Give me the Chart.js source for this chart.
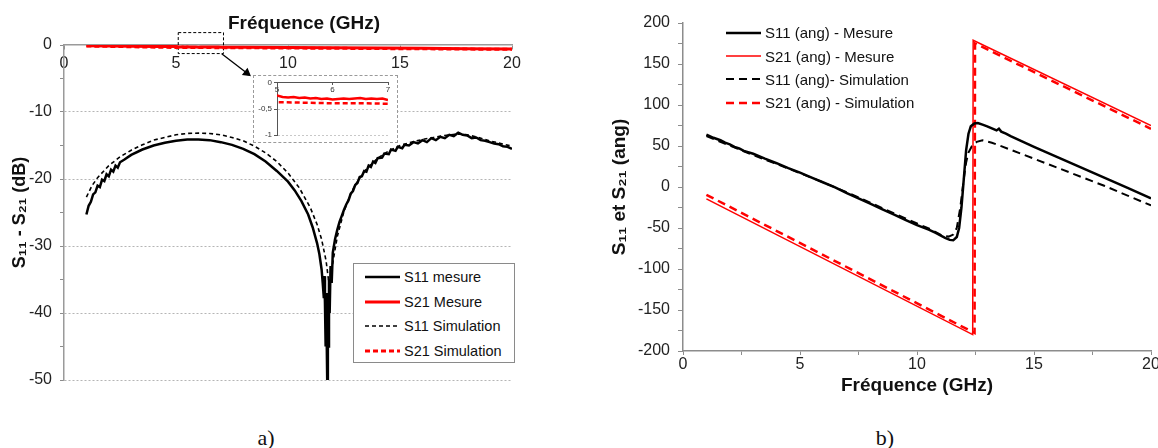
<!DOCTYPE html>
<html>
<head>
<meta charset="utf-8">
<script src="https://cdn.jsdelivr.net/npm/chart.js@4.4.1/dist/chart.umd.min.js"></script>
<style>
  body { margin: 0; width: 1158px; height: 448px; overflow: hidden; background: #fff; position: relative;
         font-family: "Liberation Sans", Arial, sans-serif; color: #111; }
  canvas { position: absolute; }
  .txt { position: absolute; white-space: nowrap; transform: translate(-50%, -50%); }
  .legend { position: absolute; box-sizing: border-box; }
  .lg-row { display: flex; align-items: center; white-space: nowrap; }
  .lg-row svg { margin-right: 4px; }
  #insetBox { position: absolute; left: 253px; top: 75px; width: 145px; height: 68px;
              box-sizing: border-box; border: 1px dashed #9a9a9a; background: #fff; }
  #insetBox canvas { left: 0; top: 0; }
</style>
</head>
<body>
<canvas id="chartA" width="580" height="400" style="left:0;top:0"></canvas>
<canvas id="chartB" width="600" height="410" style="left:580px;top:0"></canvas>
<div id="insetBox"><canvas id="chartInset" width="143" height="66"></canvas></div>

<div class="txt" style="left:304px;top:23px;font-weight:bold;font-size:19px">Fréquence (GHz)</div>
<div id="legendA" class="legend" style="left:353px;top:263px;width:162px;height:100px;border:1px solid #8a8a8a;background:#fff;padding:1px 0 0 11px"></div>
<div id="legendB" class="legend" style="left:726px;top:21px"></div>
<div class="txt" style="left:266px;top:438px;font-family:'Liberation Serif',serif;font-size:22px">a)</div>
<div class="txt" style="left:885px;top:438px;font-family:'Liberation Serif',serif;font-size:22px">b)</div>

<script>
const FONT = '"Liberation Sans", Arial, sans-serif';
const RED = '#ff0000';

// ---------- a) amplitude (dB) ----------
const freqS11MesA = [
  1.0, 1.1, 1.2, 1.3, 1.4, 1.5, 1.6, 1.7, 1.8, 1.9,
  2.0, 2.1, 2.2, 2.3, 2.4, 2.5, 2.7, 3.0, 3.5, 4.0,
  4.5, 5.0, 5.5, 6.0, 6.5, 7.0, 7.5, 8.0, 8.5, 9.0,
  9.5, 10.0, 10.3, 10.6, 10.9, 11.1, 11.3, 11.4, 11.5, 11.55,
  11.6, 11.62, 11.65, 11.68, 11.7, 11.72, 11.75, 11.78, 11.8, 11.83,
  11.86, 11.9, 11.95, 12.0, 12.1, 12.2, 12.3, 12.4, 12.5, 12.6,
  12.7, 12.8, 12.9, 13.0, 13.1, 13.2, 13.3, 13.4, 13.5, 13.6,
  13.7, 13.8, 13.9, 14.0, 14.2, 14.3, 14.5, 14.6, 14.8, 14.9,
  15.1, 15.2, 15.4, 15.6, 15.8, 16.0, 16.2, 16.4, 16.6, 16.8,
  17.0, 17.2, 17.4, 17.6, 17.8, 18.0, 18.2, 18.4, 18.6, 18.8,
  19.0, 19.2, 19.4, 19.6, 19.8, 20.0
];
const dbS11MesA = [
  -25.3, -24.0, -23.4, -22.3, -22.0, -21.0, -21.2, -20.1, -20.3, -19.3,
  -19.6, -18.6, -18.9, -18.0, -18.3, -17.5, -17.1, -16.4, -15.6, -15.0,
  -14.6, -14.3, -14.1, -14.1, -14.2, -14.5, -14.9, -15.5, -16.3, -17.4,
  -18.8, -20.4, -21.7, -23.3, -25.3, -27.2, -29.6, -31.2, -33.5, -35.5,
  -37.8, -34.5, -38.5, -45.0, -37.0, -42.0, -50.0, -38.0, -45.0, -35.0,
  -40.0, -33.0, -35.5, -31.0, -29.0, -27.6, -26.4, -25.5, -24.6, -23.8,
  -23.2, -22.2, -21.8, -20.9, -20.6, -19.7, -19.6, -18.8, -18.9, -18.0,
  -18.2, -17.4, -17.6, -16.9, -16.8, -16.2, -16.3, -15.6, -15.8, -15.2,
  -15.4, -14.9, -15.0, -14.5, -14.7, -14.2, -14.5, -13.9, -14.2, -13.7,
  -13.9, -13.4, -13.6, -13.1, -13.4, -13.5, -13.9, -13.8, -14.2, -14.3,
  -14.5, -14.7, -14.8, -15.1, -15.2, -15.5
];

const freqS11SimA = [
  1.0, 1.25, 1.5, 2.0, 2.5, 3.0, 3.5, 4.0, 4.5, 5.0,
  5.5, 6.0, 6.5, 7.0, 7.5, 8.0, 8.5, 9.0, 9.5, 10.0,
  10.5, 11.0, 11.3, 11.5, 11.7, 11.85, 12.0, 12.2, 12.5, 12.8,
  13.0, 13.5, 14.0, 14.5, 15.0, 15.5, 16.0, 16.5, 17.0, 17.5,
  17.8, 18.0, 18.5, 19.0, 19.5, 20.0
];
const dbS11SimA = [
  -22.7, -21.0, -19.8, -18.0, -16.7, -15.7, -14.9, -14.2, -13.8, -13.4,
  -13.2, -13.15, -13.2, -13.4, -13.8, -14.3, -15.1, -16.1, -17.4, -19.1,
  -21.3, -24.3, -26.8, -29.0, -32.2, -36.2, -32.5, -28.6, -24.8, -22.2,
  -20.9, -18.5, -16.9, -15.8, -15.0, -14.5, -14.1, -13.8, -13.5, -13.3,
  -13.3, -13.4, -13.8, -14.3, -14.7, -15.1
];

const freqS21MesA = [
  1.0, 2.0, 3.0, 4.0, 5.0, 5.1, 5.2, 5.3, 5.4, 5.5,
  5.6, 5.7, 5.8, 5.9, 6.0, 6.1, 6.2, 6.3, 6.4, 6.5,
  6.6, 6.7, 6.8, 6.9, 7.0, 8.0, 10.0, 12.0, 14.0, 16.0,
  18.0, 20.0
];
const dbS21MesA = [
  -0.10, -0.15, -0.19, -0.23, -0.24, -0.27, -0.28, -0.27, -0.29, -0.28,
  -0.30, -0.29, -0.31, -0.30, -0.32, -0.31, -0.30, -0.31, -0.30, -0.29,
  -0.31, -0.30, -0.31, -0.30, -0.33, -0.35, -0.38, -0.41, -0.45, -0.50,
  -0.55, -0.60
];

const freqS21SimA = [1.0, 5.0, 5.5, 6.0, 6.5, 7.0, 10.0, 15.0, 20.0];
const dbS21SimA = [-0.15, -0.37, -0.38, -0.39, -0.39, -0.40, -0.45, -0.55, -0.65];

// zoom frame and arrow pointing to the inset (data units)
const zoomBoxX = [5.1, 7.12, 7.12, 5.1, 5.1];
const zoomBoxY = [1.85, 1.85, -1.28, -1.28, 1.85];
const arrowX = [7.04, 8.16];
const arrowY = [-1.3, -4.17];

// ---------- b) phase (ang) ----------
const freqS11MesB = [
  1.0, 1.3, 1.6, 1.8, 2.0, 2.2, 2.4, 2.6, 3.0, 3.5,
  4.0, 4.5, 5.0, 5.5, 6.0, 6.5, 7.0, 7.5, 8.0, 8.5,
  9.0, 9.5, 10.0, 10.5, 10.8, 11.0, 11.2, 11.4, 11.55, 11.7,
  11.8, 11.9, 12.0, 12.1, 12.2, 12.3, 12.45, 12.6, 12.8, 13.0,
  13.2, 13.4, 13.5, 13.6, 13.8, 14.0, 15.0, 16.0, 17.0, 18.0,
  19.0, 20.0
];
const angS11MesB = [
  64, 60, 57, 54, 52, 49, 47, 44, 40.5, 34.5,
  29, 23, 17.5, 11.5, 5.5, -0.5, -7.4, -14, -20.4, -27,
  -33.4, -40, -46.4, -52, -56, -59, -62, -64.5, -65, -61,
  -50, -25, 10, 45, 65, 74, 77.5, 78, 76, 74,
  71.5, 69, 71, 67.5, 65, 62, 49, 36.5, 24, 11.5,
  -1, -14
];

const freqS11SimB = [
  1.0, 2.0, 3.0, 4.0, 5.0, 6.0, 7.0, 8.0, 9.0, 10.0,
  10.5, 10.8, 11.1, 11.35, 11.55, 11.7, 11.85, 12.0, 12.1, 12.2,
  12.35, 12.55, 12.8, 13.2, 14.0, 15.0, 16.0, 17.0, 18.0, 19.0,
  20.0
];
const angS11SimB = [
  62, 50.5, 39, 28, 17, 5.5, -6.5, -19, -32, -44.5,
  -50.5, -55, -59.5, -60.5, -58, -50, -25, 10, 30, 42,
  50, 55, 57, 54, 45.5, 34.5, 23.5, 12.5, 1.5, -10.5,
  -22.5
];

const freqS21MesB = [1.0, 12.38, 12.4, 20.0];
const angS21MesB = [-14.5, -180, 179, 75];
const freqS21SimB = [1.0, 12.46, 12.48, 20.0];
const angS21SimB = [-9.5, -178, 175, 71];

function pts(xs, ys) {
  return xs.map((x, i) => ({ x: x, y: ys[i] }));
}

function buildLegend(el, chart, rowH, sampleW, fontSize) {
  chart.data.datasets.filter(d => d.label).forEach(d => {
    const row = document.createElement('div');
    row.className = 'lg-row';
    row.style.height = rowH + 'px';
    row.style.fontSize = fontSize + 'px';
    const dash = (d.borderDash || []).join(',');
    row.innerHTML = '<svg width="' + sampleW + '" height="8"><line x1="0" y1="4" x2="' + sampleW +
      '" y2="4" stroke="' + d.borderColor + '" stroke-width="' + d.borderWidth +
      '" stroke-dasharray="' + dash + '"/></svg><span>' + d.label + '</span>';
    el.appendChild(row);
  });
}

Chart.defaults.font.family = FONT;
Chart.defaults.color = '#222';

const lineBase = { showLine: true, pointRadius: 0, tension: 0, fill: false };

// ---------- chart a ----------
const chartA = new Chart(document.getElementById('chartA'), {
  type: 'scatter',
  data: {
    datasets: [
      Object.assign({ label: 'S11 mesure', data: pts(freqS11MesA, dbS11MesA),
        borderColor: '#000', borderWidth: 2.5 }, lineBase),
      Object.assign({ label: 'S21 Mesure', data: pts(freqS21MesA, dbS21MesA),
        borderColor: RED, borderWidth: 3 }, lineBase),
      Object.assign({ label: 'S11 Simulation', data: pts(freqS11SimA, dbS11SimA),
        borderColor: '#000', borderWidth: 1.6, borderDash: [4, 3] }, lineBase),
      Object.assign({ label: 'S21 Simulation', data: pts(freqS21SimA, dbS21SimA),
        borderColor: RED, borderWidth: 3, borderDash: [5, 3] }, lineBase),
      Object.assign({ data: pts(zoomBoxX, zoomBoxY), borderColor: '#000', borderWidth: 1,
        borderDash: [3, 2], clip: false }, lineBase),
      Object.assign({}, lineBase, { data: pts(arrowX, arrowY), borderColor: '#000', borderWidth: 1.3,
        pointRadius: [0, 4], pointStyle: 'triangle', pointRotation: 128,
        pointBackgroundColor: '#000', pointBorderColor: '#000', clip: false })
    ]
  },
  options: {
    responsive: false,
    animation: false,
    events: [],
    layout: { padding: { left: 0, top: 45, right: 68, bottom: 20 } },
    plugins: { legend: { display: false }, tooltip: { enabled: false } },
    scales: {
      x: {
        type: 'linear', position: { y: 0 }, min: 0, max: 20,
        ticks: { stepSize: 5, padding: 5, maxRotation: 0, color: '#222', font: { size: 16 } },
        grid: { drawOnChartArea: false, drawTicks: true, tickLength: 4, tickColor: '#8c8c8c' },
        border: { color: '#9a9a9a', width: 1.5 }
      },
      y: {
        min: -50, max: 0,
        afterFit: s => { s.width = 64; },
        ticks: { stepSize: 5, autoSkip: false, padding: 8, color: '#222', font: { size: 16 },
          callback: v => (v % 10 === 0 ? String(v) : '') },
        grid: {
          color: ctx => (ctx.tick && ctx.tick.value % 10 === 0 && ctx.tick.value !== 0) ? '#b5b5b5' : 'rgba(0,0,0,0)',
          tickColor: '#8c8c8c', tickLength: 4, lineWidth: 1
        },
        border: { color: '#9a9a9a', width: 1.5, dash: [2, 2] },
        title: { display: true, text: 'S₁₁ - S₂₁ (dB)', color: '#111',
          font: { size: 18, weight: 'bold' }, padding: { top: 9, bottom: 0 } }
      }
    }
  }
});

// ---------- inset (zoom 5-7 GHz) ----------
new Chart(document.getElementById('chartInset'), {
  type: 'scatter',
  data: {
    datasets: [
      Object.assign({ data: pts(freqS21MesA, dbS21MesA), borderColor: RED, borderWidth: 2.5 }, lineBase),
      Object.assign({ data: pts(freqS21SimA, dbS21SimA), borderColor: RED, borderWidth: 2.5,
        borderDash: [5, 3] }, lineBase)
    ]
  },
  options: {
    responsive: false,
    animation: false,
    events: [],
    layout: { padding: { left: 0, top: 3, right: 9, bottom: 3 } },
    plugins: { legend: { display: false }, tooltip: { enabled: false } },
    scales: {
      x: {
        type: 'linear', position: { y: 0 }, min: 5, max: 7,
        ticks: { stepSize: 1, padding: 0, maxRotation: 0, color: '#333', font: { size: 8 } },
        grid: { drawOnChartArea: false, tickLength: 2, tickColor: '#555' },
        border: { color: '#555', width: 1 }
      },
      y: {
        min: -1, max: 0,
        afterFit: s => { s.width = 23; },
        ticks: { stepSize: 0.5, padding: 2, color: '#333', font: { size: 8 },
          callback: v => String(v).replace('.', ',') },
        grid: {
          color: ctx => (ctx.tick && ctx.tick.value !== 0) ? '#c8c8c8' : 'rgba(0,0,0,0)',
          tickColor: '#555', tickLength: 3, lineWidth: 1
        },
        border: { color: '#555', width: 1, dash: [2, 2] }
      }
    }
  }
});

// ---------- chart b ----------
const chartB = new Chart(document.getElementById('chartB'), {
  type: 'scatter',
  data: {
    datasets: [
      Object.assign({ label: 'S11 (ang) - Mesure', data: pts(freqS11MesB, angS11MesB),
        borderColor: '#000', borderWidth: 2.5 }, lineBase),
      Object.assign({ label: 'S21 (ang) - Mesure', data: pts(freqS21MesB, angS21MesB),
        borderColor: RED, borderWidth: 1.5 }, lineBase),
      Object.assign({ label: 'S11 (ang)- Simulation', data: pts(freqS11SimB, angS11SimB),
        borderColor: '#000', borderWidth: 2, borderDash: [8, 5] }, lineBase),
      Object.assign({ label: 'S21 (ang) - Simulation', data: pts(freqS21SimB, angS21SimB),
        borderColor: RED, borderWidth: 2.5, borderDash: [8, 5] }, lineBase)
    ]
  },
  options: {
    responsive: false,
    animation: false,
    events: [],
    layout: { padding: { left: 0, top: 23, right: 29, bottom: 9 } },
    plugins: { legend: { display: false }, tooltip: { enabled: false } },
    scales: {
      x: {
        type: 'linear', position: 'bottom', min: 0, max: 20,
        afterFit: s => { s.height = 50; },
        ticks: { stepSize: 2.5, autoSkip: false, padding: 0, maxRotation: 0, color: '#222',
          font: { size: 16 }, callback: v => (v % 5 === 0 ? String(v) : '') },
        grid: { drawOnChartArea: false, tickLength: 4, tickColor: '#8c8c8c' },
        border: { color: '#8c8c8c', width: 1.5 },
        title: { display: true, text: 'Fréquence (GHz)', color: '#111',
          font: { size: 19, weight: 'bold' }, padding: { top: 0, bottom: 4 } }
      },
      y: {
        min: -200, max: 200,
        afterFit: s => { s.width = 103; },
        ticks: { stepSize: 25, autoSkip: false, padding: 8, color: '#222', font: { size: 16 },
          callback: v => (v % 50 === 0 ? String(v) : '') },
        grid: { drawOnChartArea: false, tickLength: 5, tickColor: '#8c8c8c' },
        border: { color: '#8c8c8c', width: 1.5 },
        title: { display: true, text: 'S₁₁ et S₂₁ (ang)', color: '#111',
          font: { size: 19, weight: 'bold' }, padding: { top: 28, bottom: 0 } }
      }
    }
  }
});

buildLegend(document.getElementById('legendA'), chartA, 24.5, 35, 14.5);
buildLegend(document.getElementById('legendB'), chartB, 23.4, 35, 15);
</script>
</body>
</html>
